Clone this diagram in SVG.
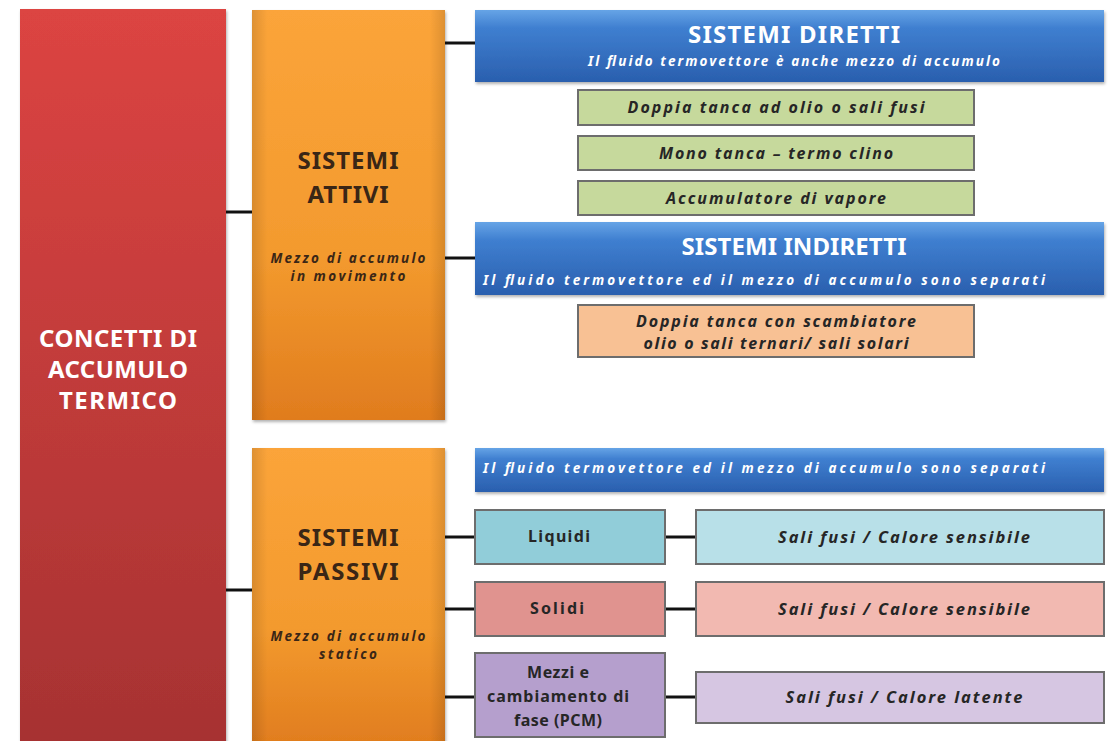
<svg xmlns="http://www.w3.org/2000/svg" width="1113" height="741" viewBox="0 0 1113 741">
<defs>
<linearGradient id="gRed" x1="0" y1="0" x2="0" y2="1"><stop offset="0" stop-color="#dc4442"/><stop offset="1" stop-color="#a63232"/></linearGradient>
<linearGradient id="gOr" x1="0" y1="0" x2="0" y2="1"><stop offset="0" stop-color="#fba43a"/><stop offset="0.6" stop-color="#f39a2e"/><stop offset="1" stop-color="#e07c1e"/></linearGradient>
<linearGradient id="gOrH" x1="0" y1="0" x2="1" y2="0"><stop offset="0" stop-color="#000" stop-opacity="0.12"/><stop offset="0.08" stop-color="#000" stop-opacity="0"/><stop offset="0.92" stop-color="#000" stop-opacity="0"/><stop offset="1" stop-color="#000" stop-opacity="0.12"/></linearGradient>
<linearGradient id="gBlue" x1="0" y1="0" x2="0" y2="1"><stop offset="0" stop-color="#66a4e6"/><stop offset="0.25" stop-color="#3f7fd0"/><stop offset="1" stop-color="#2a5fae"/></linearGradient>
<filter id="sh" x="-5%" y="-5%" width="110%" height="115%"><feDropShadow dx="1" dy="2" stdDeviation="1.5" flood-color="#000" flood-opacity="0.3"/></filter>
</defs>
<style>
.t{font-family:"Noto Sans","Open Sans",sans-serif;text-anchor:middle}
.w{fill:#ffffff;font-weight:bold}
.d{fill:#3a2616;font-weight:bold}
.i{font-style:italic;font-weight:bold}
.k{fill:#262626}
.box{stroke:#6d6d6d;stroke-width:2}
.ln{stroke:#111;stroke-width:3;fill:none}
</style>
<rect width="1113" height="741" fill="#ffffff"/>
<g id="connectors">
<line class="ln" x1="226" y1="212" x2="253" y2="212"/>
<line class="ln" x1="226" y1="590" x2="253" y2="590"/>
<line class="ln" x1="445" y1="43" x2="476" y2="43"/>
<line class="ln" x1="445" y1="258" x2="476" y2="258"/>
<line class="ln" x1="445" y1="537" x2="476" y2="537"/>
<line class="ln" x1="445" y1="609" x2="476" y2="609"/>
<line class="ln" x1="445" y1="697" x2="476" y2="697"/>
<line class="ln" x1="665" y1="537" x2="696" y2="537"/>
<line class="ln" x1="665" y1="609" x2="696" y2="609"/>
<line class="ln" x1="665" y1="697" x2="696" y2="697"/>
</g>
<g id="concetti">
<rect x="20" y="9" width="206" height="740" fill="url(#gRed)" filter="url(#sh)"/>
<text class="t w" x="118" y="347" font-size="24" textLength="158">CONCETTI DI</text>
<text class="t w" x="118" y="378" font-size="24" textLength="140">ACCUMULO</text>
<text class="t w" x="118" y="409" font-size="24" textLength="118">TERMICO</text>
</g>
<g id="attivi">
<rect x="252" y="10" width="193" height="410" fill="url(#gOr)" filter="url(#sh)"/>
<rect x="252" y="10" width="193" height="410" fill="url(#gOrH)"/>
<text class="t d" x="348" y="169" font-size="24" textLength="101">SISTEMI</text>
<text class="t d" x="348" y="203" font-size="24" textLength="81">ATTIVI</text>
<text class="t d i" x="348" y="263" font-size="13.5" textLength="155">Mezzo di accumulo</text>
<text class="t d i" x="348" y="281" font-size="13.5" textLength="115">in movimento</text>
</g>
<g id="passivi">
<rect x="252" y="448" width="193" height="300" fill="url(#gOr)" filter="url(#sh)"/>
<rect x="252" y="448" width="193" height="300" fill="url(#gOrH)"/>
<text class="t d" x="348" y="546" font-size="24" textLength="101">SISTEMI</text>
<text class="t d" x="348" y="580" font-size="24" textLength="101">PASSIVI</text>
<text class="t d i" x="348" y="641" font-size="13.5" textLength="155">Mezzo di accumulo</text>
<text class="t d i" x="348" y="659" font-size="13.5" textLength="58">statico</text>
</g>
<g id="diretti">
<rect x="475" y="10" width="629" height="72" fill="url(#gBlue)" filter="url(#sh)"/>
<text class="t w" x="794" y="43" font-size="24" textLength="212">SISTEMI DIRETTI</text>
<text class="t w i" x="794" y="66" font-size="13.5" textLength="412">Il fluido termovettore è anche mezzo di accumulo</text>
</g>
<g id="doppia-tanca">
<rect class="box" x="578" y="90" width="396" height="35" fill="#c6d99c"/>
<text class="t k i" x="776" y="113" font-size="16" textLength="297">Doppia tanca ad olio o sali fusi</text>
</g>
<g id="mono-tanca">
<rect class="box" x="578" y="136" width="396" height="34" fill="#c6d99c"/>
<text class="t k i" x="776" y="159" font-size="16" textLength="234">Mono tanca – termo  clino</text>
</g>
<g id="accumulatore">
<rect class="box" x="578" y="181" width="396" height="34" fill="#c6d99c"/>
<text class="t k i" x="776" y="204" font-size="16" textLength="220">Accumulatore  di vapore</text>
</g>
<g id="indiretti">
<rect x="475" y="222" width="629" height="73" fill="url(#gBlue)" filter="url(#sh)"/>
<text class="t w" x="794" y="255" font-size="24" textLength="225">SISTEMI INDIRETTI</text>
<text class="t w i" x="764" y="285" font-size="13.5" textLength="562">Il fluido termovettore ed il mezzo di accumulo sono separati</text>
</g>
<g id="doppia-scambiatore">
<rect class="box" x="578" y="305" width="396" height="52" fill="#f8c194"/>
<text class="t k i" x="776" y="327" font-size="16" textLength="280">Doppia tanca con scambiatore</text>
<text class="t k i" x="776" y="349" font-size="16" textLength="265">olio o sali ternari/  sali solari</text>
</g>
<g id="passivi-header">
<rect x="475" y="448" width="629" height="44" fill="url(#gBlue)" filter="url(#sh)"/>
<text class="t w i" x="764" y="473" font-size="13.5" textLength="562">Il fluido termovettore ed il mezzo di accumulo sono separati</text>
</g>
<g id="liquidi">
<rect class="box" x="475" y="510" width="190" height="54" fill="#91cdd9"/>
<text class="t k" x="559" y="542" font-size="16" font-weight="bold" textLength="62">Liquidi</text>
</g>
<g id="liquidi-desc">
<rect class="box" x="696" y="510" width="408" height="54" fill="#b8e0e8"/>
<text class="t k i" x="904" y="543" font-size="16.5" textLength="252">Sali fusi / Calore sensibile</text>
</g>
<g id="solidi">
<rect class="box" x="475" y="582" width="190" height="54" fill="#e0938f"/>
<text class="t k" x="557" y="614" font-size="16" font-weight="bold" textLength="54">Solidi</text>
</g>
<g id="solidi-desc">
<rect class="box" x="696" y="582" width="408" height="54" fill="#f2b9b1"/>
<text class="t k i" x="904" y="615" font-size="16.5" textLength="252">Sali fusi / Calore sensibile</text>
</g>
<g id="pcm">
<rect class="box" x="475" y="653" width="190" height="84" fill="#b59fcd"/>
<text class="t k" x="558" y="678" font-size="16" font-weight="bold" textLength="62">Mezzi e</text>
<text class="t k" x="558" y="702" font-size="16" font-weight="bold" textLength="142">cambiamento  di</text>
<text class="t k" x="558" y="726" font-size="16" font-weight="bold" textLength="88">fase (PCM)</text>
</g>
<g id="pcm-desc">
<rect class="box" x="696" y="672" width="408" height="51" fill="#d6c6e2"/>
<text class="t k i" x="904" y="703" font-size="16.5" textLength="237">Sali fusi / Calore latente</text>
</g>
</svg>
